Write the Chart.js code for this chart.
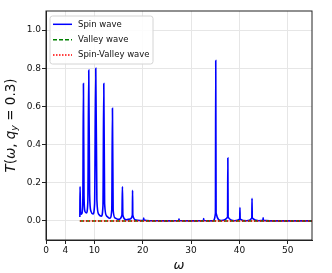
<!DOCTYPE html>
<html>
<head>
<meta charset="utf-8">
<script src="https://cdn.jsdelivr.net/npm/chart.js@4"></script>
<style>
  body { margin: 0; background: #fff; }
</style>
</head>
<body>
<canvas id="transChart" width="332" height="273"></canvas>
<script>
// 频率点与透射率
const omega = [
    7.00, 7.04, 7.12, 7.25, 7.45,
    7.62, 7.74, 7.86, 8.05, 8.35,
    8.65, 8.84, 9.02, 9.30, 9.70,
    10.05, 10.29, 10.52, 10.90, 11.45,
    11.78, 11.95, 12.12, 12.55, 13.20,
    13.60, 13.74, 13.88, 14.30, 15.00,
    15.70, 15.80, 15.90, 16.60, 17.40,
    17.85, 17.90, 17.95, 18.60, 19.80,
    20.15, 20.20, 20.25, 21.50, 25.00,
    27.45, 27.50, 27.55, 30.00,
    32.55, 32.60, 32.65, 34.50,
    35.03, 35.10, 35.17, 36.20,
    37.54, 37.60, 37.66, 39.00,
    40.05, 40.10, 40.15, 41.50,
    42.55, 42.60, 42.65, 44.00,
    44.85, 44.90, 44.95, 48.00, 55.00
];
const spinWave = [
    0.020, 0.180, 0.070, 0.035, 0.040,
    0.120, 0.720, 0.130, 0.050, 0.042,
    0.100, 0.790, 0.140, 0.050, 0.036,
    0.090, 0.800, 0.110, 0.035, 0.025,
    0.080, 0.720, 0.090, 0.025, 0.014,
    0.060, 0.590, 0.060, 0.015, 0.008,
    0.030, 0.180, 0.030, 0.006, 0.010,
    0.030, 0.160, 0.030, 0.004, 0.002,
    0.005, 0.015, 0.005, 0.001, 0.000,
    0.002, 0.010, 0.002, 0.000,
    0.002, 0.012, 0.002, 0.000,
    0.040, 0.840, 0.040, 0.002,
    0.020, 0.330, 0.020, 0.001,
    0.010, 0.070, 0.010, 0.001,
    0.015, 0.118, 0.015, 0.001,
    0.003, 0.016, 0.003, 0.000, 0.000
];
const omegaFlat = [7.0, 55.0];
const valleyWave = [0, 0];
const spinValleyWave = [0, 0];

const xTicks = [0, 4, 10, 20, 30, 40, 50];
const yTicks = [0, 0.2, 0.4, 0.6, 0.8, 1.0];

const toPoints = (xs, ys) => xs.map((x, i) => ({ x: x, y: ys[i] }));

// 纵轴标题（带下标）
const yTitlePlugin = {
    id: 'yTitle',
    afterDraw(chart) {
        const ctx = chart.ctx;
        const area = chart.chartArea;
        const parts = [
            ['T', 'italic 13.5px "DejaVu Sans"', 0],
            ['(', '13.5px "DejaVu Sans"', 0],
            ['ω', 'italic 13.5px "DejaVu Sans"', 0],
            [', ', '13.5px "DejaVu Sans"', 0],
            ['q', 'italic 13.5px "DejaVu Sans"', 0],
            ['y', 'italic 9.5px "DejaVu Sans"', 3],
            [' = 0.3)', '13.5px "DejaVu Sans"', 0]
        ];
        ctx.save();
        let total = 0;
        parts.forEach(p => { ctx.font = p[1]; total += ctx.measureText(p[0]).width; });
        ctx.translate(11.5, (area.top + area.bottom) / 2);
        ctx.rotate(-Math.PI / 2);
        ctx.fillStyle = '#111';
        ctx.textBaseline = 'middle';
        let x = -total / 2;
        parts.forEach(p => {
            ctx.font = p[1];
            ctx.fillText(p[0], x, p[2]);
            x += ctx.measureText(p[0]).width;
        });
        ctx.restore();
    }
};

// 图例（画在数据之上）
const boxLegendPlugin = {
    id: 'boxLegend',
    afterDatasetsDraw(chart) {
        const ctx = chart.ctx;
        const left = 50, top = 16, w = 103, h = 48, r = 2.5;
        ctx.save();
        ctx.beginPath();
        ctx.roundRect(left, top, w, h, r);
        ctx.fillStyle = 'rgba(255,255,255,0.85)';
        ctx.fill();
        ctx.strokeStyle = '#d4d4d4';
        ctx.lineWidth = 1;
        ctx.stroke();
        ctx.font = '8.5px "DejaVu Sans"';
        ctx.textBaseline = 'middle';
        chart.data.datasets.forEach((ds, i) => {
            const y = 24.3 + i * 15.4;
            ctx.beginPath();
            ctx.setLineDash(ds.borderDash || []);
            ctx.strokeStyle = ds.borderColor;
            ctx.lineWidth = 1.5;
            ctx.moveTo(53, y);
            ctx.lineTo(72, y);
            ctx.stroke();
            ctx.setLineDash([]);
            ctx.fillStyle = '#111';
            ctx.fillText(ds.label, 78, y);
        });
        ctx.restore();
    }
};

const transChart = new Chart(
    document.getElementById('transChart'),
    {
        type: 'scatter',
        data: {
            datasets: [
                {
                    label: 'Spin wave',
                    data: toPoints(omega, spinWave),
                    showLine: true,
                    borderColor: '#0000ff',
                    borderWidth: 1.6,
                    pointRadius: 0,
                    cubicInterpolationMode: 'monotone',
                    order: 3
                },
                {
                    label: 'Valley wave',
                    data: toPoints(omegaFlat, valleyWave),
                    showLine: true,
                    borderColor: '#008000',
                    borderWidth: 1.5,
                    borderDash: [4, 2],
                    pointRadius: 0,
                    order: 2
                },
                {
                    label: 'Spin-Valley wave',
                    data: toPoints(omegaFlat, spinValleyWave),
                    showLine: true,
                    borderColor: '#ff0000',
                    borderWidth: 1.5,
                    borderDash: [1.5, 1.5],
                    pointRadius: 0,
                    order: 1
                }
            ]
        },
        options: {
            responsive: false,
            animation: false,
            layout: { padding: { left: 0, right: 20, top: 11, bottom: 0 } },
            plugins: {
                legend: { display: false },
                tooltip: { enabled: false }
            },
            scales: {
                x: {
                    type: 'linear',
                    min: 0,
                    max: 55,
                    afterBuildTicks: scale => { scale.ticks = xTicks.map(v => ({ value: v })); },
                    afterFit: scale => { scale.height = 33; },
                    ticks: {
                        color: '#111',
                        font: { family: 'DejaVu Sans', size: 9 },
                        padding: 1,
                        maxRotation: 0
                    },
                    grid: { color: '#e6e6e6', tickLength: 4, tickColor: '#222' },
                    border: { color: '#222', width: 1 },
                    title: {
                        display: true,
                        text: 'ω',
                        color: '#111',
                        font: { family: 'DejaVu Sans', size: 13, style: 'italic' },
                        padding: 0
                    }
                },
                y: {
                    min: -0.1,
                    max: 1.1,
                    afterBuildTicks: scale => { scale.ticks = yTicks.map(v => ({ value: v })); },
                    afterFit: scale => { scale.width = 46; },
                    ticks: {
                        color: '#111',
                        font: { family: 'DejaVu Sans', size: 9 },
                        padding: 1,
                        callback: v => v.toFixed(1)
                    },
                    grid: { color: '#e6e6e6', tickLength: 4, tickColor: '#222' },
                    border: { color: '#222', width: 1 }
                }
            }
        },
        plugins: [yTitlePlugin, boxLegendPlugin, {
            id: 'frame',
            afterDatasetsDraw(chart) {
                const a = chart.chartArea;
                const ctx = chart.ctx;
                ctx.save();
                ctx.strokeStyle = '#222';
                ctx.lineWidth = 1;
                ctx.strokeRect(a.left, a.top, a.right - a.left, a.bottom - a.top);
                ctx.restore();
            }
        }]
    }
);
</script>
</body>
</html>
